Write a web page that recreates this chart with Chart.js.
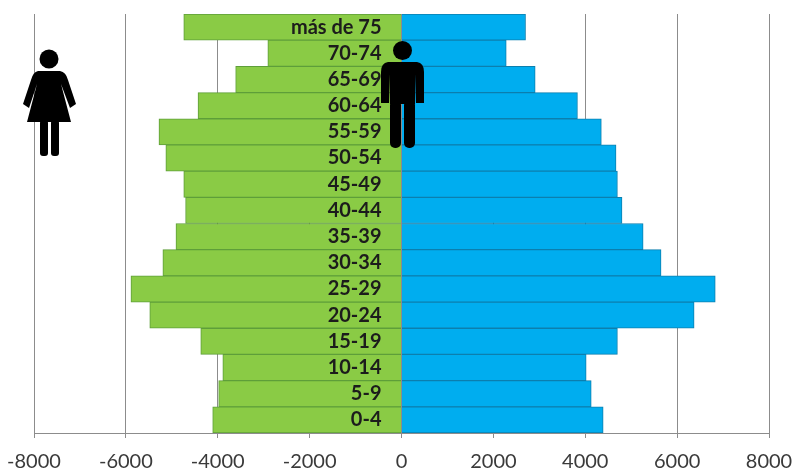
<!DOCTYPE html>
<html><head><meta charset="utf-8">
<style>html,body{margin:0;padding:0;background:#fff}#w{width:793px;height:469px;position:relative}</style>
<script src="https://cdn.jsdelivr.net/npm/chart.js@4"></script>
</head><body><div id="w"><canvas id="c" width="793" height="469"></canvas></div>
<script>
const categories=["más de 75","70-74","65-69","60-64","55-59","50-54","45-49","40-44","35-39","30-34","25-29","20-24","15-19","10-14","5-9","0-4"];
const mujeres=[-4740,-2910,-3610,-4430,-5280,-5130,-4740,-4700,-4910,-5195,-5890,-5480,-4370,-3890,-3980,-4110];
const hombres=[2700,2280,2910,3830,4350,4670,4700,4800,5260,5650,6830,6370,4700,4020,4130,4390];
const xTicks=[-8000,-6000,-4000,-2000,0,2000,4000,6000,8000];

function roundBar(ctx,x,y,w,h,r){ctx.beginPath();ctx.roundRect(x,y,w,h,r);ctx.fill();}
const icons={id:'icons',afterDraw(chart){
  const ctx=chart.ctx;ctx.save();ctx.fillStyle='#000';
  // mujer
  ctx.beginPath();ctx.arc(49,59,9.5,0,Math.PI*2);ctx.fill();
  ctx.beginPath();
  ctx.moveTo(38,71);ctx.lineTo(60,71);ctx.quadraticCurveTo(66,72,68,80);ctx.lineTo(76,104);ctx.lineTo(70,108);
  ctx.lineTo(61,84);ctx.lineTo(71,122);ctx.lineTo(27,122);ctx.lineTo(37,84);ctx.lineTo(29,108);ctx.lineTo(23,104);
  ctx.lineTo(31,80);ctx.quadraticCurveTo(33,72,38,71);ctx.closePath();ctx.fill();
  roundBar(ctx,40,120,8,36,3);roundBar(ctx,51,120,8,36,3);
  // hombre
  ctx.beginPath();ctx.arc(402.5,50.5,9.5,0,Math.PI*2);ctx.fill();
  ctx.beginPath();
  ctx.moveTo(388,62);ctx.lineTo(417,62);ctx.quadraticCurveTo(424,63,424,72);ctx.lineTo(424,103);ctx.lineTo(416,103);
  ctx.lineTo(416,74);ctx.lineTo(415,104);ctx.lineTo(390,104);ctx.lineTo(389,74);ctx.lineTo(389,103);ctx.lineTo(381,103);
  ctx.lineTo(381,72);ctx.quadraticCurveTo(381,63,388,62);ctx.closePath();ctx.fill();
  roundBar(ctx,390,100,11,48,5);roundBar(ctx,404,100,11,48,5);
  ctx.restore();
}};

function noPad(s){s.paddingLeft=0;s.paddingRight=0;s.paddingTop=0;s.paddingBottom=0;}

new Chart(document.getElementById('c'),{
  type:'bar',
  plugins:[icons],
  data:{labels:categories,datasets:[
    {label:'Mujeres',data:mujeres,backgroundColor:'#8ACB45',borderColor:'#5E9E3A',borderWidth:1},
    {label:'Hombres',data:hombres,backgroundColor:'#00ADEF',borderColor:'#0C7FAE',borderWidth:1}
  ]},
  options:{
    indexAxis:'y',responsive:false,animation:false,
    layout:{padding:{left:34,right:24,top:14,bottom:0}},
    plugins:{legend:{display:false},tooltip:{enabled:false},title:{display:false}},
    datasets:{bar:{barPercentage:1,categoryPercentage:1}},
    scales:{
      x:{type:'linear',min:-8000,max:8000,stacked:true,
        afterBuildTicks(s){s.ticks=xTicks.map(v=>({value:v}));},
        afterFit(s){s.height=36;noPad(s);},
        grid:{color:'#8C8C8C',lineWidth:1,tickLength:5,drawTicks:true},
        border:{color:'#8C8C8C'},
        ticks:{color:'#3A3A3A',padding:12,maxRotation:0,autoSkip:false,font:{family:'Lato',size:20},callback:v=>String(v)}},
      y:{stacked:true,position:{x:-435},afterFit:noPad,
        grid:{display:false,drawTicks:false},border:{display:false},
        ticks:{z:1,color:'#1c1c1c',padding:5,autoSkip:false,font:{family:'Lato',size:20,weight:'bold'}}}
    }
  }
});
</script></body></html>
